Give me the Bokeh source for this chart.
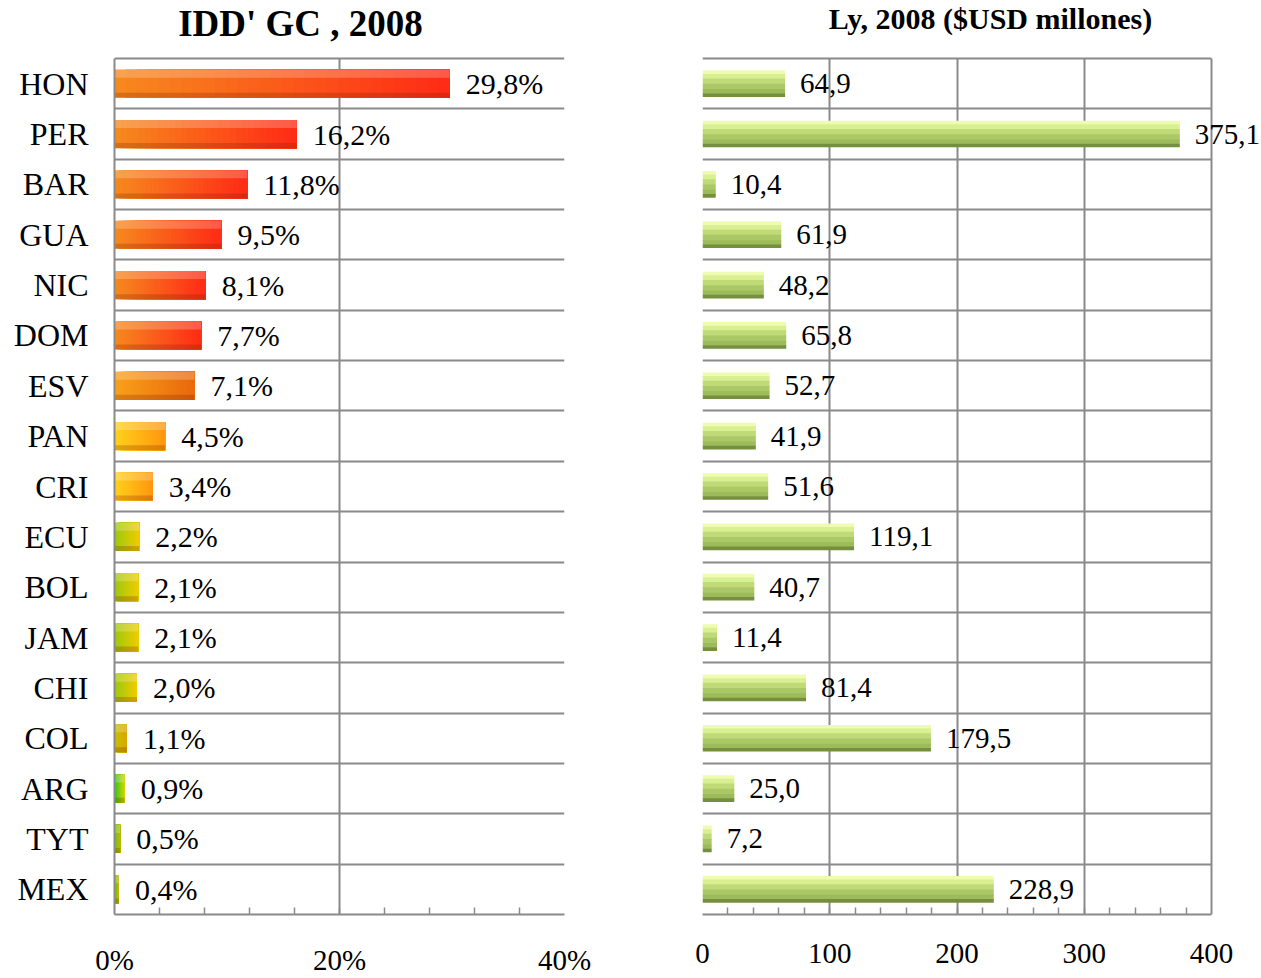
import numpy as np
from bokeh.plotting import figure
from bokeh.layouts import row
from bokeh.models import ColumnDataSource, Range1d, FixedTicker, LabelSet, Label
from bokeh.embed import file_html
from bokeh.resources import INLINE

# ---------------- data ----------------
countries = ["HON", "PER", "BAR", "GUA", "NIC", "DOM", "ESV", "PAN", "CRI",
             "ECU", "BOL", "JAM", "CHI", "COL", "ARG", "TYT", "MEX"]
idd_pct = [29.8, 16.2, 11.8, 9.5, 8.1, 7.7, 7.1, 4.5, 3.4,
           2.2, 2.1, 2.1, 2.0, 1.1, 0.9, 0.5, 0.4]
ly_musd = [64.9, 375.1, 10.4, 61.9, 48.2, 65.8, 52.7, 41.9, 51.6,
           119.1, 40.7, 11.4, 81.4, 179.5, 25.0, 7.2, 228.9]
left_ticks = [0, 20, 40]
left_tick_labels = ["0%", "20%", "40%"]
right_ticks = [0, 100, 200, 300, 400]
right_tick_labels = ["0", "100", "200", "300", "400"]
title_left = "IDD' GC , 2008"
title_right = "Ly, 2008 ($USD millones)"

# ---------------- layout / style ----------------
FONT = "Liberation Serif"
GRID = "#8a8a8a"
n = len(countries)
ypos = [n - 1 - i for i in range(n)]
H = 978          # canvas height
BOT = 64         # space under the plot box for tick labels
ROWS_TOP = 58    # pixel row where the bordered box starts
BOX_H = H - BOT - ROWS_TOP
PX_PER_ROW = BOX_H / n
Y_END = (n - 0.5) + ROWS_TOP / PX_PER_ROW   # frame runs up to the canvas top (title space)

W_LEFT = 640
L_BOX = (114, 564)
R_BOX = (702, 1211)

left_start = ["#f68a1e"] * 6 + ["#f9a11b"] + ["#ffd21c"] * 2 + ["#9cc80f"] * 4 + ["#c8c000", "#28c81e", "#5cc81e", "#5cc81e"]
left_end = ["#ff2a16"] * 6 + ["#e9680c"] + ["#ff960e"] * 2 + ["#f0cc00"] * 4 + ["#d8a800", "#d8d400", "#c8b400", "#c8b400"]


def hex2rgb(h):
    h = h.lstrip("#")
    return np.array([int(h[i:i + 2], 16) for i in (0, 2, 4)], dtype=float)


def rgb2hex(c):
    return "#%02x%02x%02x" % tuple(int(round(v)) for v in c)


def base_fig(xend, ticks, labels, minor, w, mbl, mbr):
    p = figure(width=w, height=H, x_range=Range1d(0, xend), y_range=Range1d(-0.5, Y_END),
               output_backend="svg", toolbar_location=None,
               min_border_left=mbl, min_border_right=mbr, min_border_top=0, min_border_bottom=BOT,
               background_fill_color="white", border_fill_color="white")
    p.outline_line_color = None
    p.xaxis.ticker = FixedTicker(ticks=ticks, minor_ticks=minor)
    p.xaxis.major_label_overrides = {t: l for t, l in zip(ticks, labels)}
    p.xaxis.major_label_text_font = FONT
    p.xaxis.major_label_text_font_size = "29px"
    p.xaxis.major_label_text_color = "black"
    p.xaxis.axis_line_color = GRID
    p.xaxis.axis_line_width = 2
    p.xaxis.major_tick_in = 0
    p.xaxis.major_tick_out = 0
    p.xaxis.minor_tick_in = 7
    p.xaxis.minor_tick_out = 0
    p.xaxis.minor_tick_line_color = GRID
    p.xaxis.minor_tick_line_width = 1.5
    p.xaxis.major_label_standoff = 29
    p.xaxis.bounds = (ticks[0], ticks[-1])
    # box border + grid drawn by the grids, limited to the box
    p.xgrid.ticker = FixedTicker(ticks=ticks)
    p.xgrid.cross_bounds = (-0.5, n - 0.5)
    p.xgrid.grid_line_color = GRID
    p.xgrid.grid_line_width = 2
    p.ygrid.ticker = FixedTicker(ticks=[k + 0.5 for k in range(-1, n)])
    p.ygrid.cross_bounds = (ticks[0], ticks[-1])
    p.ygrid.grid_line_color = GRID
    p.ygrid.grid_line_width = 2
    return p


# ---------------- left figure ----------------
pl = base_fig(40, left_ticks, left_tick_labels, list(range(4, 40, 4)),
              W_LEFT, L_BOX[0], W_LEFT - L_BOX[1])
pl.xgrid.ticker = FixedTicker(ticks=[0, 20, 40])
pl.yaxis.ticker = FixedTicker(ticks=ypos)
pl.yaxis.bounds = (-0.5, n - 0.5)
pl.yaxis.major_label_overrides = {y: c for y, c in zip(ypos, countries)}
pl.yaxis.major_label_text_font = FONT
pl.yaxis.major_label_text_font_size = "32px"
pl.yaxis.major_label_text_color = "black"
pl.yaxis.major_tick_in = 0
pl.yaxis.major_tick_out = 0
pl.yaxis.minor_tick_line_color = None
pl.yaxis.axis_line_color = GRID
pl.yaxis.axis_line_width = 2
pl.yaxis.major_label_standoff = 26

K = 30
BH = 0.56
seg = dict(y=[], left=[], right=[], color=[])
for v, y, cs, ce in zip(idd_pct, ypos, left_start, left_end):
    a, b = hex2rgb(cs), hex2rgb(ce)
    for k in range(K):
        t = (k + 0.5) / K
        seg["y"].append(y)
        seg["left"].append(v * k / K)
        seg["right"].append(v)
        seg["color"].append(rgb2hex(a + (b - a) * t))
pl.hbar(y="y", left="left", right="right", height=BH, fill_color="color",
        line_color=None, source=ColumnDataSource(seg))
src_l = ColumnDataSource(dict(y=ypos, v=idd_pct,
                              ytop=[y + BH / 2 - 0.08 for y in ypos],
                              ybot=[y - BH / 2 + 0.05 for y in ypos],
                              lab=[f"{v:.1f}".replace(".", ",") + "%" for v in idd_pct]))
pl.hbar(y="ytop", left=0, right="v", height=0.16, fill_color="white", fill_alpha=0.22,
        line_color=None, source=src_l)
pl.hbar(y="ybot", left=0, right="v", height=0.1, fill_color="#7a2000", fill_alpha=0.25,
        line_color=None, source=src_l)
pl.add_layout(LabelSet(x="v", y="y", text="lab", source=src_l, x_offset=16,
                       text_baseline="middle", text_font=FONT, text_font_size="30px",
                       text_color="black"))
# title, centred at pixel x=300, anchor at pixel y=23
sx_l = (L_BOX[1] - L_BOX[0]) / 40.0
pl.add_layout(Label(x=(300 - L_BOX[0]) / sx_l, y=(n - 0.5) + (ROWS_TOP - 23) / PX_PER_ROW,
                    text=title_left, text_align="center", text_baseline="alphabetic",
                    text_font=FONT, text_font_size="37px", text_font_style="bold",
                    text_color="black"))

# ---------------- right figure ----------------
RW = 1261 - W_LEFT
R_MBL = R_BOX[0] - W_LEFT
R_FRAME = RW - R_MBL
sx_r = (R_BOX[1] - R_BOX[0]) / 400.0
xend_r = R_FRAME / sx_r
pr = base_fig(xend_r, right_ticks, right_tick_labels, list(range(20, 400, 20)),
              RW, R_MBL, 0)
pr.yaxis.visible = False

BH2 = 0.52
shades = ["#eefbb0", "#d8ef92", "#c0da78", "#aac866", "#9dbb5a", "#748f3e"]
fr = [0.14, 0.18, 0.2, 0.2, 0.16, 0.12]
seg2 = dict(y=[], right=[], h=[], color=[])
for v, y in zip(ly_musd, ypos):
    top = y + BH2 / 2
    for c, f in zip(shades, fr):
        hh = BH2 * f
        seg2["y"].append(top - hh / 2)
        seg2["right"].append(v)
        seg2["h"].append(hh * 1.15)
        seg2["color"].append(c)
        top -= hh
pr.hbar(y="y", left=0, right="right", height="h", fill_color="color",
        line_color=None, source=ColumnDataSource(seg2))
src_r = ColumnDataSource(dict(y=ypos, v=ly_musd,
                              lab=[f"{v:.1f}".replace(".", ",") for v in ly_musd]))
pr.add_layout(LabelSet(x="v", y="y", text="lab", source=src_r, x_offset=15,
                       text_baseline="middle", text_font=FONT, text_font_size="29px",
                       text_color="black"))
# title, centred at pixel x=990, anchor at pixel y=18
pr.add_layout(Label(x=(990 - R_BOX[0]) / sx_r, y=(n - 0.5) + (ROWS_TOP - 18) / PX_PER_ROW,
                    text=title_right, text_align="center", text_baseline="alphabetic",
                    text_font=FONT, text_font_size="30px", text_font_style="bold",
                    text_color="black"))

layout = row(pl, pr)
open("out.html", "w").write(file_html(layout, INLINE))
